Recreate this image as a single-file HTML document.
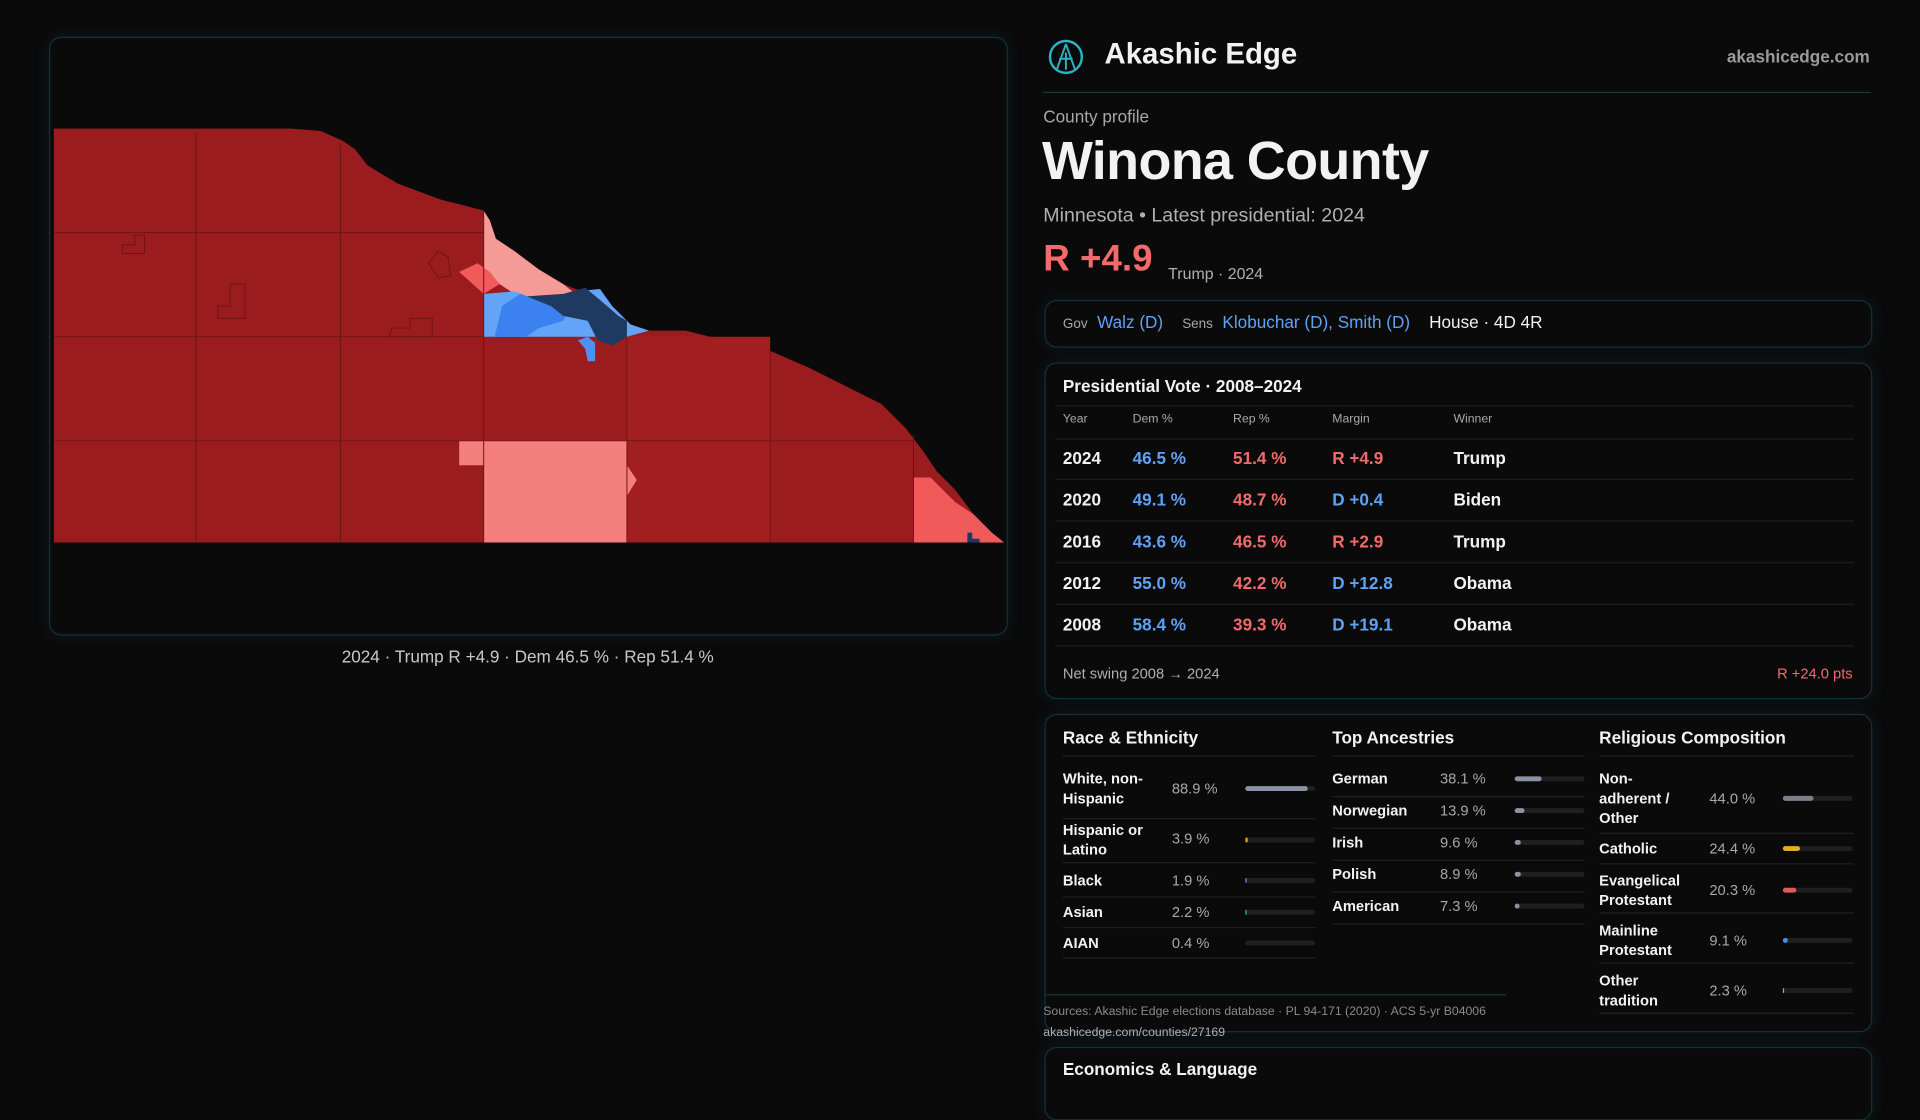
<!DOCTYPE html>
<html><head><meta charset="utf-8"><style>
*{margin:0;padding:0;box-sizing:border-box}
body{width:1920px;height:1080px;background:#0a0a0b;overflow:hidden;font-family:"Liberation Sans",sans-serif;color:#f2f2f2}
#s{position:absolute;left:0;top:0;width:1568px;height:882px;transform:scale(1.22449);transform-origin:0 0}
.a{position:absolute;white-space:nowrap}
.panel{position:absolute;border:1px solid #123238;border-radius:10px;background:#0a0a0b;box-shadow:0 0 12px rgba(20,80,90,.25)}
.b{color:#5ea2f7}.r{color:#f26a6a}.g{color:#a8a8a8}
.row{position:absolute;left:868px;width:646px;border-top:1px solid #1e1e20}
.bar{position:absolute;height:4px;border-radius:2px;background:#1f1f22}
.bar i{position:absolute;left:0;top:0;height:4px;border-radius:2px}
.sep{position:absolute;border-top:1px solid #202022}
</style></head><body><div id="s">
<div class="panel" style="left:40px;top:30px;width:783px;height:489px"></div>
<svg class="a" style="left:0;top:0" width="1568" height="882">
<polygon fill="#9b1c1f" points="44,105 238,105 262,107 280,115 290,122 300,135 325,150 360,163 380,168 395,172 400,180 405,195 420,205 440,220 460,232 480,240 500,250 515,265 530,270 560,270 600,280 630,287 660,300 690,315 720,330 740,350 755,370 765,385 780,400 795,420 810,435 820,443 44,443"/>
<polygon fill="#a21f21" points="512,275 629,275 629,443 512,443"/>
<polygon fill="#f49a97" points="395,172 400,180 405,195 420,205 440,220 460,232 470,240 440,245 420,240 405,230 395,236"/>
<polygon fill="#f05a5a" points="375,222 390,215 400,222 408,232 395,240"/>
<polygon fill="#64a4f8" points="395,240 420,238 440,245 470,238 490,236 500,250 515,265 530,270 512,275 395,275"/>
<polygon fill="#3b82f0" points="404,275 410,250 425,240 445,248 465,250 460,262 440,268 430,275"/>
<polygon fill="#1e3a60" points="430,242 460,240 478,235 490,245 505,258 512,262 512,275 500,282 488,278 480,262 460,258 450,250"/>
<polygon fill="#4f90f0" points="472,278 480,275 486,280 486,295 480,295 478,285"/>
<polygon fill="#f47f7e" points="375,360 512,360 512,380 520,392 512,405 512,443 395,443 395,380 375,380"/>
<polygon fill="#f05a5a" points="746,390 760,390 770,400 780,410 795,420 810,435 820,443 746,443"/>
<polygon fill="#1e3a60" points="790,435 794,435 794,440 800,440 800,443 790,443"/>
<g stroke="#6e1416" stroke-width="0.8" fill="none">
<line x1="160" y1="108" x2="160" y2="443"/><line x1="278" y1="118" x2="278" y2="443"/><line x1="395" y1="172" x2="395" y2="443"/><line x1="512" y1="275" x2="512" y2="443"/><line x1="629" y1="287" x2="629" y2="443"/><line x1="746" y1="355" x2="746" y2="443"/>
<line x1="44" y1="190" x2="395" y2="190"/><line x1="44" y1="275" x2="395" y2="275"/><line x1="44" y1="360" x2="746" y2="360"/>
<path d="M100 200h10v-8h8v15h-18z M178 250h10v-18h12v28h-22z M320 268h15v-8h18v15h-35z M350 215l8-10 8 5 2 15 -10 2z"/>
</g>
</svg>
<div class="a" style="left:431px;top:528px;transform:translateX(-50%);font-size:14px;color:#c8c8c8">2024 · Trump R +4.9 · Dem 46.5 % · Rep 51.4 %</div>

<svg class="a" style="left:855px;top:31px" width="31" height="31"><circle cx="15.5" cy="15.5" r="13" fill="none" stroke="#2ab3c4" stroke-width="2"/><path d="M15.5 5L8 26M15.5 5L23 26M10 17h11M15.5 12v14" stroke="#2ab3c4" stroke-width="1.6" fill="none"/></svg>
<div class="a" style="left:902px;top:31px;font-size:24px;font-weight:bold">Akashic Edge</div>
<div class="a g" style="right:41px;top:38px;font-size:14px;font-weight:bold;color:#9a9a9a">akashicedge.com</div>
<div class="sep" style="left:852px;top:75px;width:676px;border-color:#173a40"></div>
<div class="a g" style="left:852px;top:87px;font-size:14px">County profile</div>
<div class="a" style="left:851px;top:107px;font-size:44px;font-weight:bold;letter-spacing:-0.5px">Winona County</div>
<div class="a" style="left:852px;top:168px;font-size:16px;color:#b0b0b0">Minnesota • Latest presidential: 2024</div>
<div class="a r" style="left:852px;top:195px;font-size:30px;font-weight:bold">R +4.9</div>
<div class="a" style="left:954px;top:216px;font-size:13px;color:#b0b0b0">Trump · 2024</div>

<div class="panel" style="left:853px;top:245px;width:676px;height:39px"></div>
<div class="a" style="left:868px;top:255px;font-size:14px"><span class="g" style="font-size:11px">Gov</span>&nbsp; <span class="b">Walz (D)</span>&nbsp;&nbsp;&nbsp; <span class="g" style="font-size:11px">Sens</span>&nbsp; <span class="b">Klobuchar (D), Smith (D)</span>&nbsp;&nbsp;&nbsp; House · 4D 4R</div>

<div class="panel" style="left:853px;top:296px;width:676px;height:275px"></div>
<div class="a" style="left:868px;top:307px;font-size:14px;font-weight:bold">Presidential Vote · 2008–2024</div>
<div class="row" style="top:331px;left:862px;width:652px"></div>
<div class="a g" style="left:868px;top:337px;font-size:10px">Year</div>
<div class="a g" style="left:925px;top:337px;font-size:10px">Dem %</div>
<div class="a g" style="left:1007px;top:337px;font-size:10px">Rep %</div>
<div class="a g" style="left:1088px;top:337px;font-size:10px">Margin</div>
<div class="a g" style="left:1187px;top:337px;font-size:10px">Winner</div>
<div class="row" style="top:358px;left:862px;width:652px"></div>
<div class="row" style="top:391px;left:862px;width:652px"></div>
<div class="row" style="top:425px;left:862px;width:652px"></div>
<div class="row" style="top:459px;left:862px;width:652px"></div>
<div class="row" style="top:493px;left:862px;width:652px"></div>
<div class="row" style="top:527px;left:862px;width:652px"></div>
<div style="position:absolute;left:868px;top:357px;font-size:14px;font-weight:bold;line-height:34px">
<div style="position:relative;height:34px"><span class="a" style="left:0">2024</span><span class="a b" style="left:57px">46.5 %</span><span class="a r" style="left:139px">51.4 %</span><span class="a r" style="left:220px">R +4.9</span><span class="a" style="left:319px">Trump</span></div>
<div style="position:relative;height:34px"><span class="a" style="left:0">2020</span><span class="a b" style="left:57px">49.1 %</span><span class="a r" style="left:139px">48.7 %</span><span class="a b" style="left:220px">D +0.4</span><span class="a" style="left:319px">Biden</span></div>
<div style="position:relative;height:34px"><span class="a" style="left:0">2016</span><span class="a b" style="left:57px">43.6 %</span><span class="a r" style="left:139px">46.5 %</span><span class="a r" style="left:220px">R +2.9</span><span class="a" style="left:319px">Trump</span></div>
<div style="position:relative;height:34px"><span class="a" style="left:0">2012</span><span class="a b" style="left:57px">55.0 %</span><span class="a r" style="left:139px">42.2 %</span><span class="a b" style="left:220px">D +12.8</span><span class="a" style="left:319px">Obama</span></div>
<div style="position:relative;height:34px"><span class="a" style="left:0">2008</span><span class="a b" style="left:57px">58.4 %</span><span class="a r" style="left:139px">39.3 %</span><span class="a b" style="left:220px">D +19.1</span><span class="a" style="left:319px">Obama</span></div>
</div>
<div class="a" style="left:868px;top:543px;font-size:12px;color:#b0b0b0">Net swing 2008 → 2024</div>
<div class="a r" style="right:55px;top:543px;font-size:12px">R +24.0 pts</div>

<div class="panel" style="left:853px;top:583px;width:676px;height:260px"></div>
<div class="a" style="left:868px;top:594px;font-size:14px;font-weight:bold">Race &amp; Ethnicity</div>
<div class="a" style="left:1088px;top:594px;font-size:14px;font-weight:bold">Top Ancestries</div>
<div class="a" style="left:1306px;top:594px;font-size:14px;font-weight:bold">Religious Composition</div>
<div style="font-size:12px;font-weight:bold;line-height:16px">
<div class="sep" style="left:868px;top:617px;width:206px"></div><div class="sep" style="left:1088px;top:617px;width:206px"></div><div class="sep" style="left:1306px;top:617px;width:208px"></div>
<div class="a" style="left:868px;top:628px">White, non-<br>Hispanic</div><div class="a g" style="left:957px;top:636px;font-weight:normal">88.9 %</div><div class="bar" style="left:1017px;top:642px;width:57px"><i style="width:51px;background:#8a93a3"></i></div>
<div class="sep" style="left:868px;top:668px;width:206px"></div>
<div class="a" style="left:868px;top:670px">Hispanic or<br>Latino</div><div class="a g" style="left:957px;top:677px;font-weight:normal">3.9 %</div><div class="bar" style="left:1017px;top:684px;width:57px"><i style="width:2px;background:#e29a1e"></i></div>
<div class="sep" style="left:868px;top:704px;width:206px"></div>
<div class="a" style="left:868px;top:711px">Black</div><div class="a g" style="left:957px;top:711px;font-weight:normal">1.9 %</div><div class="bar" style="left:1017px;top:717px;width:57px"><i style="width:1px;background:#8a7de0"></i></div>
<div class="sep" style="left:868px;top:732px;width:206px"></div>
<div class="a" style="left:868px;top:737px">Asian</div><div class="a g" style="left:957px;top:737px;font-weight:normal">2.2 %</div><div class="bar" style="left:1017px;top:743px;width:57px"><i style="width:1px;background:#2fbf8a"></i></div>
<div class="sep" style="left:868px;top:757px;width:206px"></div>
<div class="a" style="left:868px;top:762px">AIAN</div><div class="a g" style="left:957px;top:762px;font-weight:normal">0.4 %</div><div class="bar" style="left:1017px;top:768px;width:57px"></div>
<div class="sep" style="left:868px;top:782px;width:206px"></div>

<div class="a" style="left:1088px;top:628px">German</div><div class="a g" style="left:1176px;top:628px;font-weight:normal">38.1 %</div><div class="bar" style="left:1237px;top:634px;width:57px"><i style="width:22px;background:#8a93a3"></i></div>
<div class="sep" style="left:1088px;top:650px;width:206px"></div>
<div class="a" style="left:1088px;top:654px">Norwegian</div><div class="a g" style="left:1176px;top:654px;font-weight:normal">13.9 %</div><div class="bar" style="left:1237px;top:660px;width:57px"><i style="width:8px;background:#8a93a3"></i></div>
<div class="sep" style="left:1088px;top:676px;width:206px"></div>
<div class="a" style="left:1088px;top:680px">Irish</div><div class="a g" style="left:1176px;top:680px;font-weight:normal">9.6 %</div><div class="bar" style="left:1237px;top:686px;width:57px"><i style="width:5px;background:#8a93a3"></i></div>
<div class="sep" style="left:1088px;top:702px;width:206px"></div>
<div class="a" style="left:1088px;top:706px">Polish</div><div class="a g" style="left:1176px;top:706px;font-weight:normal">8.9 %</div><div class="bar" style="left:1237px;top:712px;width:57px"><i style="width:5px;background:#8a93a3"></i></div>
<div class="sep" style="left:1088px;top:728px;width:206px"></div>
<div class="a" style="left:1088px;top:732px">American</div><div class="a g" style="left:1176px;top:732px;font-weight:normal">7.3 %</div><div class="bar" style="left:1237px;top:738px;width:57px"><i style="width:4px;background:#8a93a3"></i></div>
<div class="sep" style="left:1088px;top:754px;width:206px"></div>

<div class="a" style="left:1306px;top:628px">Non-<br>adherent /<br>Other</div><div class="a g" style="left:1396px;top:644px;font-weight:normal">44.0 %</div><div class="bar" style="left:1456px;top:650px;width:57px"><i style="width:25px;background:#7a7f8a"></i></div>
<div class="sep" style="left:1306px;top:680px;width:208px"></div>
<div class="a" style="left:1306px;top:685px">Catholic</div><div class="a g" style="left:1396px;top:685px;font-weight:normal">24.4 %</div><div class="bar" style="left:1456px;top:691px;width:57px"><i style="width:14px;background:#e0b020"></i></div>
<div class="sep" style="left:1306px;top:705px;width:208px"></div>
<div class="a" style="left:1306px;top:711px">Evangelical<br>Protestant</div><div class="a g" style="left:1396px;top:719px;font-weight:normal">20.3 %</div><div class="bar" style="left:1456px;top:725px;width:57px"><i style="width:11px;background:#e05a5a"></i></div>
<div class="sep" style="left:1306px;top:745px;width:208px"></div>
<div class="a" style="left:1306px;top:752px">Mainline<br>Protestant</div><div class="a g" style="left:1396px;top:760px;font-weight:normal">9.1 %</div><div class="bar" style="left:1456px;top:766px;width:57px"><i style="width:4px;background:#4a90e8"></i></div>
<div class="sep" style="left:1306px;top:786px;width:208px"></div>
<div class="a" style="left:1306px;top:793px">Other<br>tradition</div><div class="a g" style="left:1396px;top:801px;font-weight:normal">2.3 %</div><div class="bar" style="left:1456px;top:807px;width:57px"><i style="width:1px;background:#9aa"></i></div>
<div class="sep" style="left:1306px;top:827px;width:208px"></div>
</div>
<div class="sep" style="left:853px;top:812px;width:377px;border-color:#173a40"></div>
<div class="a" style="left:852px;top:821px;font-size:10px;color:#8a8a8a">Sources: Akashic Edge elections database · PL 94-171 (2020) · ACS 5-yr B04006</div>
<div class="a" style="left:852px;top:838px;font-size:10px;color:#b0b0b0">akashicedge.com/counties/27169</div>
<div class="panel" style="left:853px;top:855px;width:676px;height:60px"></div>
<div class="a" style="left:868px;top:865px;font-size:14px;font-weight:bold">Economics &amp; Language</div>
</div></body></html>
